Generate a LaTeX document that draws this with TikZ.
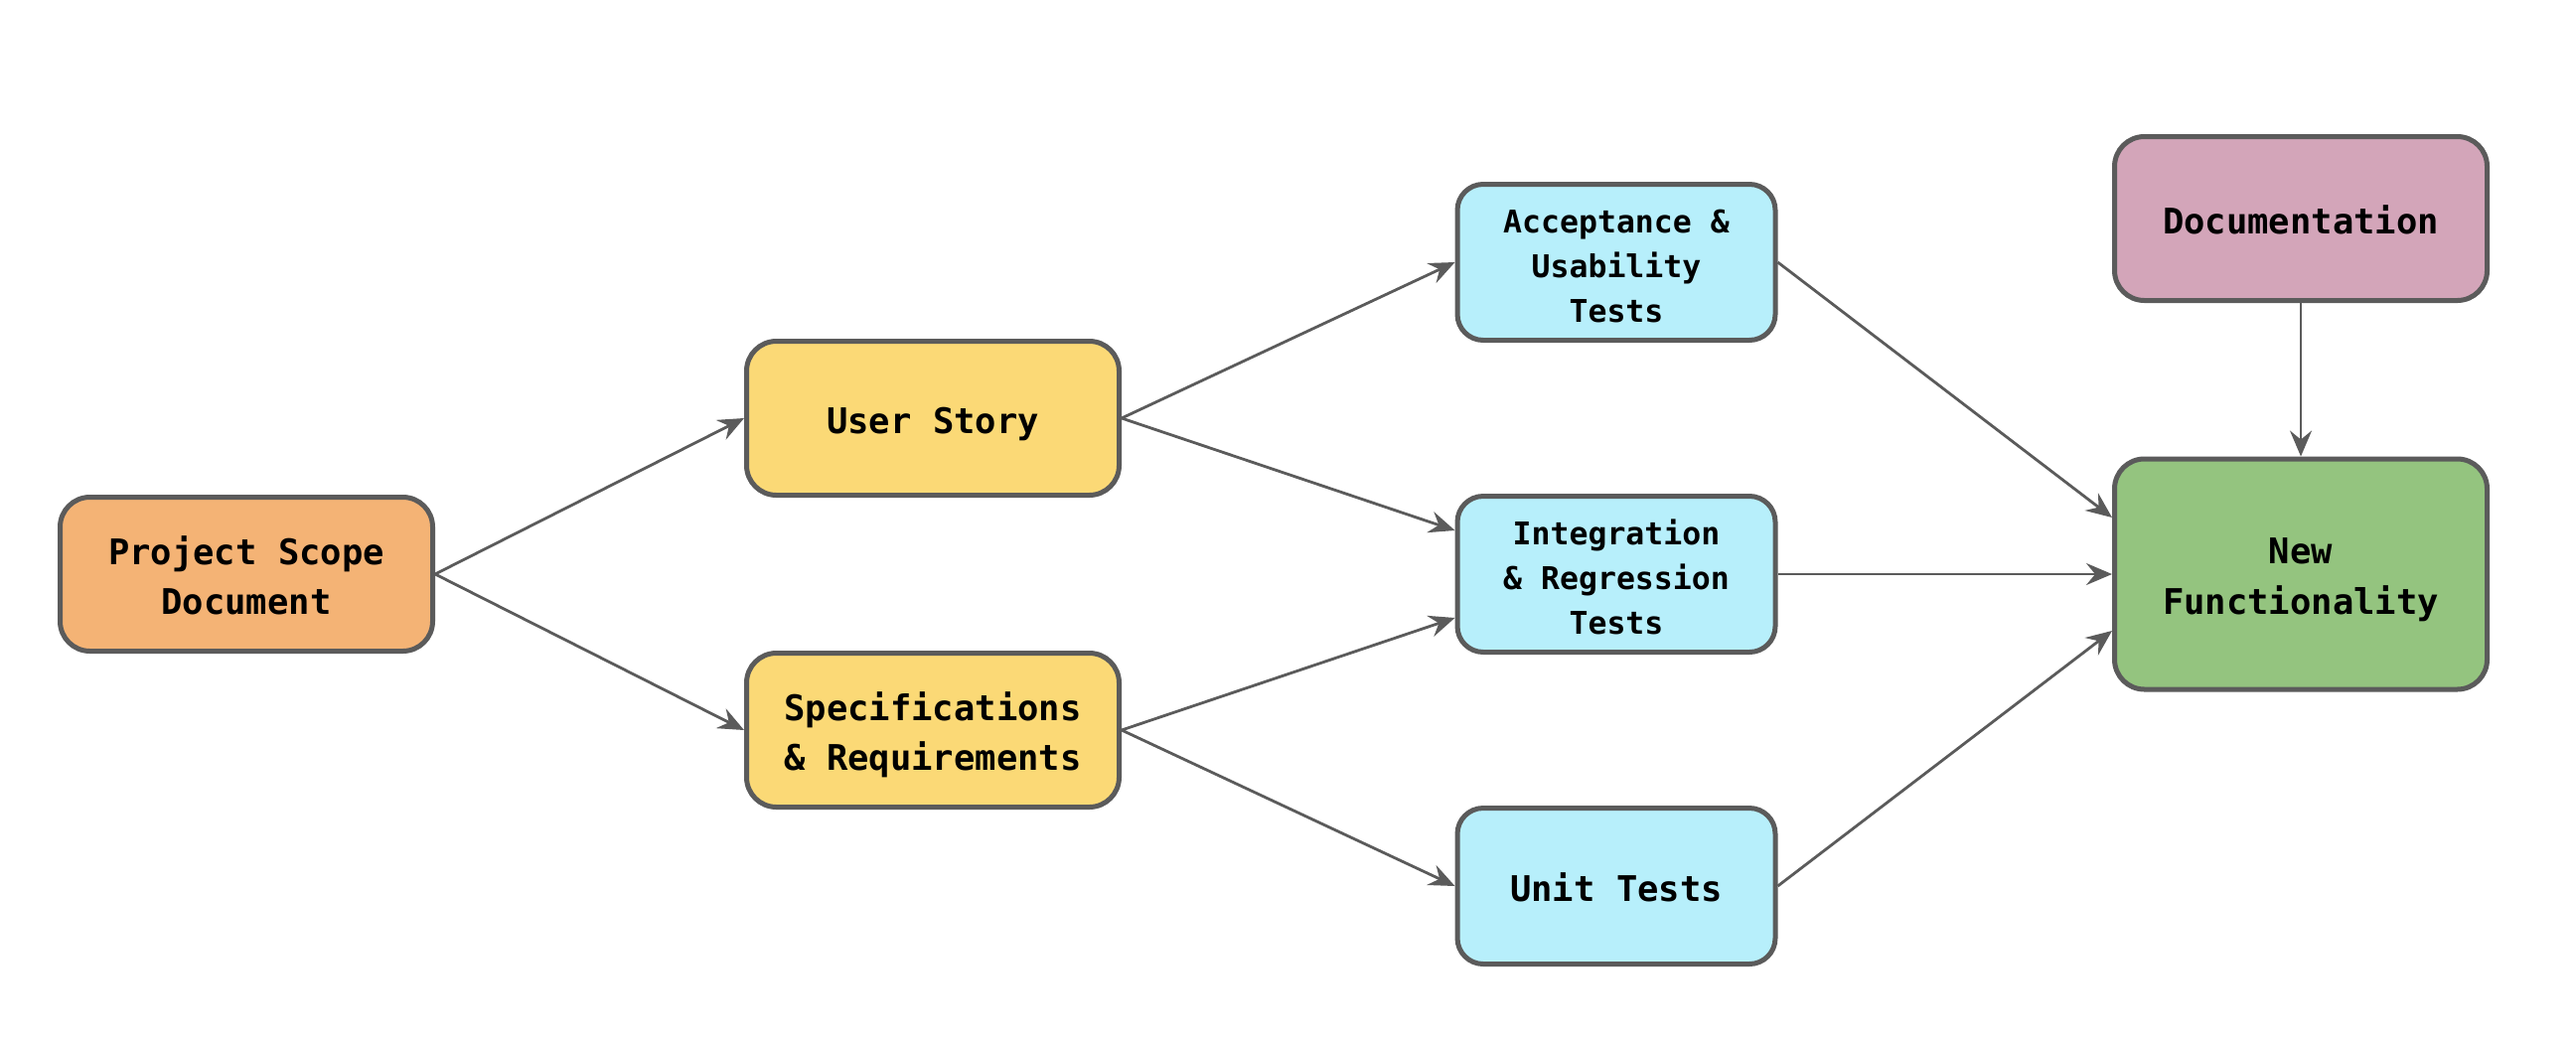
\documentclass[tikz,border=0pt]{standalone}
\usepackage{fontspec}
\newfontfamily\boxfont{DejaVu Sans Mono}
\usetikzlibrary{arrows.meta,calc}
\definecolor{bordergray}{HTML}{5B5B5B}
\definecolor{scopeorange}{HTML}{F4B375}
\definecolor{storyyellow}{HTML}{FBD976}
\definecolor{testcyan}{HTML}{B7EFFB}
\definecolor{docpink}{HTML}{D3A5B9}
\definecolor{newgreen}{HTML}{94C47F}
\newcommand\boxtopst{\rule{0pt}{40pt}}
\newcommand\boxbotst{\rule[-10pt]{0pt}{0pt}}
\begin{document}
\begin{tikzpicture}[x=1pt,y=-1pt,
  box/.style={draw=bordergray, line width=5pt, rounded corners=30pt, inner sep=0pt,
    align=center, text=black, font=\boxfont\bfseries\fontsize{35.5}{50}\selectfont},
  bigbox/.style={box, minimum width=375pt, minimum height=155pt},
  testbox/.style={box, minimum width=320pt, minimum height=157pt, fill=testcyan,
    rounded corners=26pt, font=\boxfont\bfseries\fontsize{31.5}{45}\selectfont},
  conn/.style={draw=bordergray, line width=2.8pt,
    -{Stealth[length=26pt,width=22pt,inset=9pt]}}
]
\useasboundingbox (0,0) rectangle (2593,1045);

\node[bigbox, fill=scopeorange] (scope) at (248,578) {\boxtopst Project Scope\\Document\boxbotst};
\node[bigbox, fill=storyyellow] (story) at (939,421) {\boxtopst User Story\boxbotst};
\node[bigbox, fill=storyyellow] (spec) at (939,735) {\boxtopst Specifications\\\& Requirements\boxbotst};
\node[testbox] (acc) at (1627,264) {\boxtopst Acceptance \&\\Usability\\Tests\boxbotst};
\node[testbox] (integ) at (1627,578) {\boxtopst Integration\\\& Regression\\Tests\boxbotst};
\node[testbox, font=\boxfont\bfseries\fontsize{35.5}{50}\selectfont] (unit) at (1627,892) {\boxtopst Unit Tests\boxbotst};
\node[box, fill=docpink, minimum width=375pt, minimum height=165pt] (doc) at (2316,220) {\boxtopst Documentation\boxbotst};
\node[box, fill=newgreen, minimum width=375pt, minimum height=232pt,
  font=\boxfont\bfseries\fontsize{35.5}{51.5}\selectfont] (newf) at (2316,578) {\boxtopst New\\Functionality\boxbotst};

\draw[conn] (scope.east) -- (story.west);
\draw[conn] (scope.east) -- (spec.west);
\draw[conn] (story.east) -- (acc.west);
\draw[conn] (story.east) -- ($(integ.west)+(0,-44)$);
\draw[conn] (spec.east) -- ($(integ.west)+(0,44)$);
\draw[conn] (spec.east) -- (unit.west);
\draw[conn] (acc.east) -- ($(newf.west)+(0,-57)$);
\draw[conn] (integ.east) -- (newf.west);
\draw[conn] (unit.east) -- ($(newf.west)+(0,57)$);
\draw[conn] (doc.south) -- (newf.north);
\end{tikzpicture}
\end{document}
